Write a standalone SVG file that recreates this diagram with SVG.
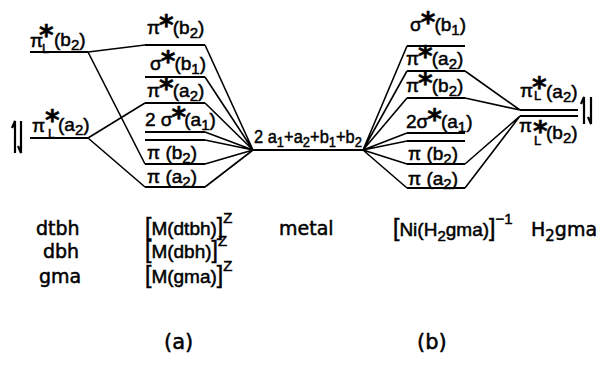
<svg xmlns="http://www.w3.org/2000/svg" width="599" height="369" viewBox="0 0 599 369">
<style>
  text { font-family: "Liberation Sans", Arial, sans-serif; font-size: 19px; fill: #000; stroke: #000; stroke-width: 0.5px; }
  .w { font-family: "DejaVu Sans", "Liberation Sans", sans-serif; }
  .st { font-family: "DejaVu Sans", "Liberation Sans", sans-serif; font-size: 28px; font-weight: bold; }
  .sb { font-size: 15px; }
  .sl { font-size: 13px; }
  .sp { font-size: 15px; }
  .br { font-size: 23px; }
  .big { font-size: 21px; }
  .lv { stroke: #000; stroke-width: 2.2; fill: none; }
  .cn { stroke: #000; stroke-width: 1.6; fill: none; }
  .ar { stroke: #000; stroke-width: 2.2; fill: none; }
</style>
<rect width="599" height="369" fill="#fff"/>

<!-- connectors -->
<g id="connectors" class="cn">
  <!-- left ligand to (a) -->
  <path d="M88 52 L145 45 M88 52 L145 164 M88 138 L145 103 M88 138 L145 187"/>
  <!-- (a) to metal -->
  <path d="M205 45 L253 150 M205 77 L253 150 M205 103 L253 150 M205 132 L253 150 M205 140 L253 150 M205 164 L253 150 M205 187 L253 150"/>
  <!-- metal to (b) -->
  <path d="M363 150 L407 46 M363 150 L407 71 M363 150 L407 98 M363 150 L407 133 M363 150 L407 141 M363 150 L407 164 M363 150 L407 188"/>
  <!-- (b) to right ligand -->
  <path d="M465 71 L520 110 M465 98 L520 110 M465 164 L520 116 M465 188 L520 116"/>
</g>

<!-- left ligand levels -->
<g id="lig-left-b2">
  <line class="lv" x1="30" y1="52" x2="88" y2="52"/>
  <text y="47"><tspan x="30">π</tspan><tspan class="st" x="39" y="45">*</tspan><tspan class="sl" x="42" y="53">L</tspan><tspan x="54" y="46">(b</tspan><tspan class="sb" y="50">2</tspan><tspan y="46">)</tspan></text>
</g>
<g id="lig-left-a2">
  <line class="lv" x1="30" y1="138" x2="88" y2="138"/>
  <text y="132"><tspan x="32">π</tspan><tspan class="st" x="45" y="130">*</tspan><tspan class="sl" x="48" y="138">L</tspan><tspan x="58" y="131">(a</tspan><tspan class="sb" y="135">2</tspan><tspan y="131">)</tspan></text>
  <path class="ar" d="M15 153 V121 L12 128 M21 121 V153 L18 146"/>
</g>

<!-- complex (a) levels -->
<g id="a-pi-star-b2">
  <line class="lv" x1="145" y1="45" x2="205" y2="45"/>
  <text x="147" y="34">π<tspan class="st" dx="-1" dy="1">*</tspan><tspan dx="-1" dy="-1">(b</tspan><tspan class="sb" dy="4">2</tspan><tspan dy="-4">)</tspan></text>
</g>
<g id="a-sigma-star-b1">
  <line class="lv" x1="145" y1="77" x2="205" y2="77"/>
  <text x="150" y="70">σ<tspan class="st" dx="-1" dy="1">*</tspan><tspan dx="-1" dy="-1">(b</tspan><tspan class="sb" dy="4">1</tspan><tspan dy="-4">)</tspan></text>
</g>
<g id="a-pi-star-a2">
  <line class="lv" x1="145" y1="103" x2="205" y2="103"/>
  <text x="147" y="97">π<tspan class="st" dx="-1" dy="1">*</tspan><tspan dx="-1" dy="-1">(a</tspan><tspan class="sb" dy="4">2</tspan><tspan dy="-4">)</tspan></text>
</g>
<g id="a-2sigma-star-a1">
  <line class="lv" x1="145" y1="132" x2="205" y2="132"/>
  <line class="lv" x1="145" y1="140" x2="205" y2="140"/>
  <text x="145" y="126">2 σ<tspan class="st" dx="-1" dy="1">*</tspan><tspan dx="-2" dy="-1">(a</tspan><tspan class="sb" dy="4">1</tspan><tspan dy="-4">)</tspan></text>
</g>
<g id="a-pi-b2">
  <line class="lv" x1="145" y1="164" x2="205" y2="164"/>
  <text x="147" y="159">π (b<tspan class="sb" dy="4">2</tspan><tspan dy="-4">)</tspan></text>
</g>
<g id="a-pi-a2">
  <line class="lv" x1="145" y1="187" x2="205" y2="187"/>
  <text x="147" y="183">π (a<tspan class="sb" dy="4">2</tspan><tspan dy="-4">)</tspan></text>
</g>

<!-- metal -->
<g id="metal">
  <line class="lv" x1="253" y1="150" x2="363" y2="150"/>
  <text x="254" y="143" textLength="108" lengthAdjust="spacingAndGlyphs">2 a<tspan class="sb" dy="4">1</tspan><tspan dy="-4">+a</tspan><tspan class="sb" dy="4">2</tspan><tspan dy="-4">+b</tspan><tspan class="sb" dy="4">1</tspan><tspan dy="-4">+b</tspan><tspan class="sb" dy="4">2</tspan></text>
</g>

<!-- complex (b) levels -->
<g id="b-sigma-star-b1">
  <line class="lv" x1="407" y1="46" x2="465" y2="46"/>
  <text x="410" y="31">σ<tspan class="st" dx="-1" dy="1">*</tspan><tspan dx="-1" dy="-1">(b</tspan><tspan class="sb" dy="4">1</tspan><tspan dy="-4">)</tspan></text>
</g>
<g id="b-pi-star-a2">
  <line class="lv" x1="407" y1="71" x2="465" y2="71"/>
  <text x="406" y="65">π<tspan class="st" dx="-1" dy="1">*</tspan><tspan dx="-1" dy="-1">(a</tspan><tspan class="sb" dy="4">2</tspan><tspan dy="-4">)</tspan></text>
</g>
<g id="b-pi-star-b2">
  <line class="lv" x1="407" y1="98" x2="465" y2="98"/>
  <text x="406" y="92">π<tspan class="st" dx="-1" dy="1">*</tspan><tspan dx="-1" dy="-1">(b</tspan><tspan class="sb" dy="4">2</tspan><tspan dy="-4">)</tspan></text>
</g>
<g id="b-2sigma-star-a1">
  <line class="lv" x1="407" y1="133" x2="465" y2="133"/>
  <line class="lv" x1="407" y1="141" x2="465" y2="141"/>
  <text x="406" y="128">2σ<tspan class="st" dx="-1" dy="1">*</tspan><tspan dx="-1" dy="-1">(a</tspan><tspan class="sb" dy="4">1</tspan><tspan dy="-4">)</tspan></text>
</g>
<g id="b-pi-b2">
  <line class="lv" x1="407" y1="164" x2="465" y2="164"/>
  <text x="408" y="160">π (b<tspan class="sb" dy="4">2</tspan><tspan dy="-4">)</tspan></text>
</g>
<g id="b-pi-a2">
  <line class="lv" x1="407" y1="188" x2="465" y2="188"/>
  <text x="408" y="185">π (a<tspan class="sb" dy="4">2</tspan><tspan dy="-4">)</tspan></text>
</g>

<!-- right ligand levels -->
<g id="lig-right-a2">
  <line class="lv" x1="520" y1="110" x2="578" y2="110"/>
  <text y="97"><tspan x="520">π</tspan><tspan class="st" x="532" y="97">*</tspan><tspan class="sl" x="534" y="100">L</tspan><tspan x="546" y="98">(a</tspan><tspan class="sb" y="102">2</tspan><tspan y="98">)</tspan></text>
</g>
<g id="lig-right-b2">
  <line class="lv" x1="520" y1="116" x2="578" y2="116"/>
  <text y="132"><tspan x="519">π</tspan><tspan class="st" x="533" y="141">*</tspan><tspan class="sl" x="534" y="145">L</tspan><tspan x="546" y="139">(b</tspan><tspan class="sb" y="143">2</tspan><tspan y="139">)</tspan></text>
  <path class="ar" d="M584 124 V97 L581 104 M591 97 V124 L588 117"/>
</g>

<!-- column captions -->
<g id="captions">
  <text x="36" y="235" class="w">dtbh</text>
  <text x="43" y="258" class="w">dbh</text>
  <text x="39" y="283" class="w">gma</text>
  <text x="145" y="235"><tspan class="br">[</tspan>M(dtbh)<tspan class="br">]</tspan><tspan class="sp" dy="-12">Z</tspan></text>
  <text x="145" y="258"><tspan class="br">[</tspan>M(dbh)<tspan class="br">]</tspan><tspan class="sp" dy="-12">Z</tspan></text>
  <text x="145" y="283"><tspan class="br">[</tspan>M(gma)<tspan class="br">]</tspan><tspan class="sp" dy="-12">Z</tspan></text>
  <text x="279" y="235" class="w">metal</text>
  <text x="393" y="236"><tspan class="br">[</tspan>Ni(H<tspan class="sb" dy="5">2</tspan><tspan dy="-5">gma)</tspan><tspan class="br">]</tspan><tspan class="sp" dy="-12">−1</tspan></text>
  <text x="531" y="236" class="w">H<tspan class="sb" dy="5">2</tspan><tspan dy="-5">gma</tspan></text>
  <text x="164" y="349" class="w big">(a)</text>
  <text x="417" y="349" class="w big">(b)</text>
</g>
</svg>
